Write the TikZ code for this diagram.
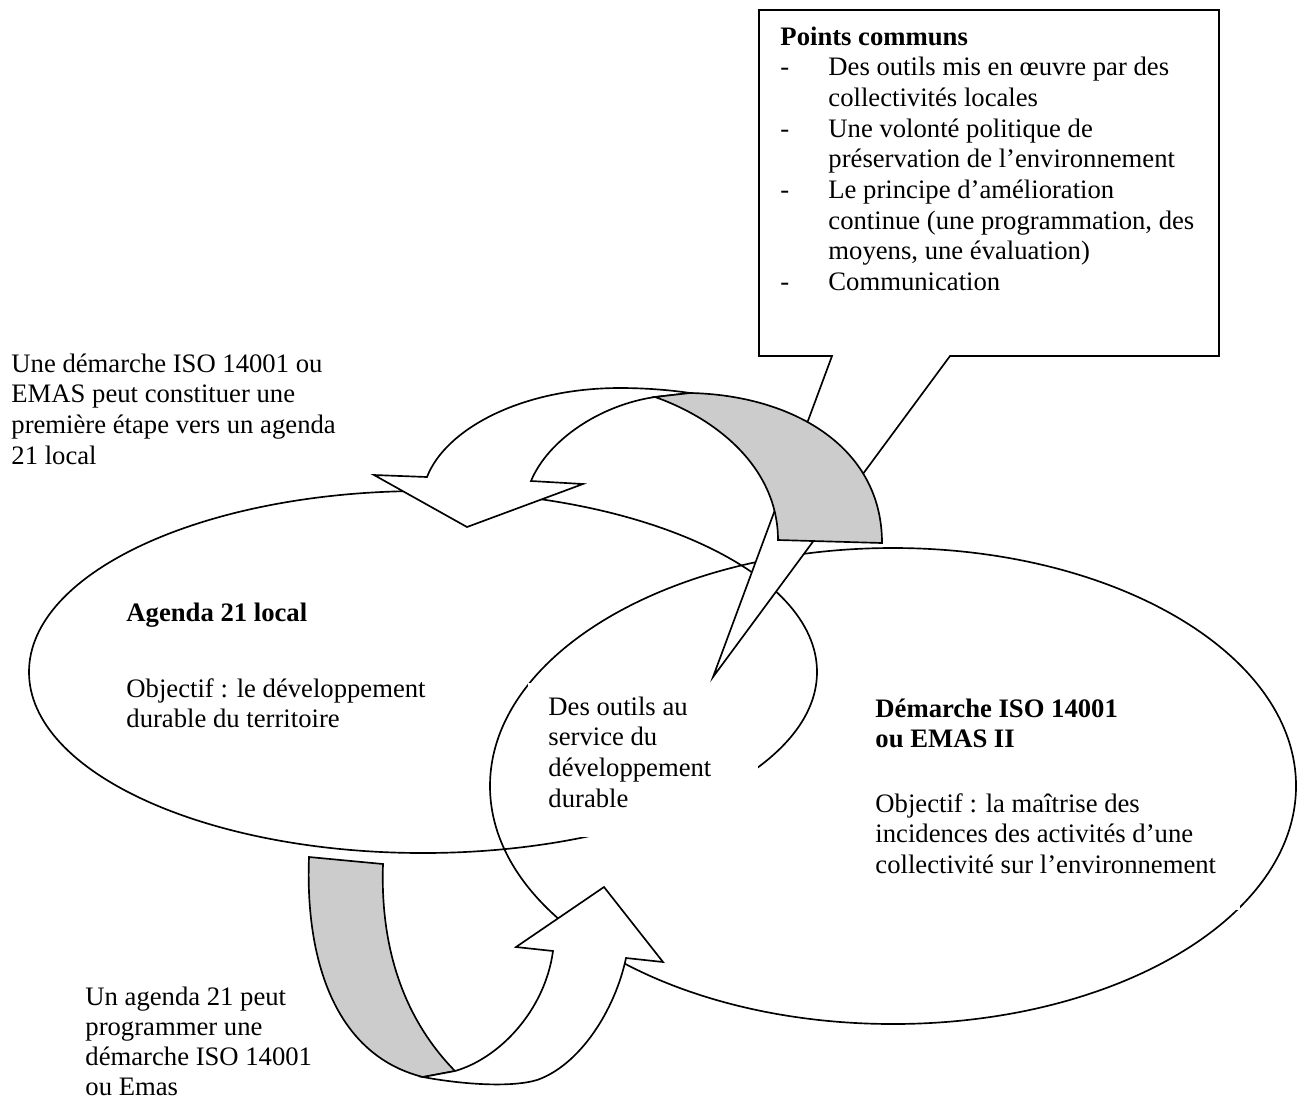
\documentclass[tikz,border=0pt]{standalone}
\usepackage{fontspec}
\setmainfont{Liberation Serif}
\definecolor{shadegray}{RGB}{204,204,204}
\newcommand{\tl}[1]{\hbox{#1}}
\newcommand{\ind}{\hspace*{21.6pt}}
\newcommand{\dsh}{\makebox[21.6pt][l]{-}}
\begin{document}
\begin{tikzpicture}[x=0.45pt,y=-0.45pt,
  outline/.style={draw=black, line width=0.75pt},
  frontface/.style={draw=black, fill=white, line width=0.75pt, line join=miter},
  backface/.style={draw=black, fill=shadegray, line width=0.75pt, line join=miter},
  txt/.style={anchor=base west, inner sep=0pt, font=\fontsize{12}{13.8}\selectfont},
  maskbox/.style={fill=white, draw=none}]
\useasboundingbox (0,0) rectangle (1298,1099);
\fill[white] (0,0) rectangle (1298,1099);

% ellipses
\draw[outline] (423,672) ellipse [x radius=177.3pt, y radius=81.45pt];
\draw[outline] (893,786) ellipse [x radius=181.35pt, y radius=107.1pt];

% callout
\draw[frontface] (759,10) -- (1219,10) -- (1219,356) -- (950,356) -- (713,677) -- (832,356) -- (759,356) -- cycle;

% top curved arrow
\draw[frontface] (427,477) .. controls (445,430) and (520,388) .. (620,388)
  .. controls (645,388) and (670,390) .. (690,393) -- (655,397)
  .. controls (600,405) and (548,440) .. (531,481)
  -- (583,484) -- (467,527) -- (374,475) -- cycle;
\draw[backface] (655,397) -- (690,393) .. controls (790,395) and (882,445) .. (882,543)
  -- (778,540) .. controls (778,470) and (720,420) .. (655,397) -- cycle;

% bottom curved arrow
\draw[backface] (309,857) .. controls (305,960) and (335,1055) .. (423,1077)
  -- (455,1071) .. controls (405,1020) and (380,950) .. (383,864) -- cycle;
\draw[frontface] (455,1071) .. controls (500,1058) and (545,1010) .. (553,951)
  -- (516,947) -- (604,887) -- (663,962) -- (626,958)
  .. controls (615,1010) and (580,1065) .. (537,1080)
  .. controls (510,1088) and (460,1084) .. (423,1077) -- cycle;

% white text boxes
\fill[maskbox] (528,683) rectangle (758,837);
\fill[maskbox] (865,690) rectangle (1240,910);

% texts
\node[txt] (note1) at (11,372) {\vtop{\baselineskip=13.8pt
  \tl{Une démarche ISO 14001 ou}\tl{EMAS peut constituer une}\tl{première étape vers un agenda}\tl{21 local}}};

\node[txt] (common) at (780,45) {\vtop{\baselineskip=13.8pt
  \tl{\textbf{Points communs}}
  \tl{\dsh Des outils mis en œuvre par des}
  \tl{\ind collectivités locales}
  \tl{\dsh Une volonté politique de}
  \tl{\ind préservation de l’environnement}
  \tl{\dsh Le principe d’amélioration}
  \tl{\ind continue (une programmation, des}
  \tl{\ind moyens, une évaluation)}
  \tl{\dsh Communication}}};

\node[txt] (agenda) at (126,621) {\vtop{\baselineskip=13.8pt
  \tl{\textbf{Agenda 21 local}}\vskip20.4pt
  \tl{Objectif : le développement}\tl{durable du territoire}}};

\node[txt] (outils) at (548,715) {\vtop{\baselineskip=13.8pt
  \tl{Des outils au}\tl{service du}\tl{développement}\tl{durable}}};

\node[txt] (iso) at (875,717) {\vtop{\baselineskip=13.8pt
  \tl{\textbf{Démarche ISO 14001}}\tl{\textbf{ou EMAS II}}\vskip15.2pt
  \tl{Objectif : la maîtrise des}\tl{incidences des activités d’une}\tl{collectivité sur l’environnement}}};

\node[txt] (note2) at (85,1005) {\vtop{\baselineskip=13.5pt
  \tl{Un agenda 21 peut}\tl{programmer une}\tl{démarche ISO 14001}\tl{ou Emas}}};
\end{tikzpicture}
\end{document}
